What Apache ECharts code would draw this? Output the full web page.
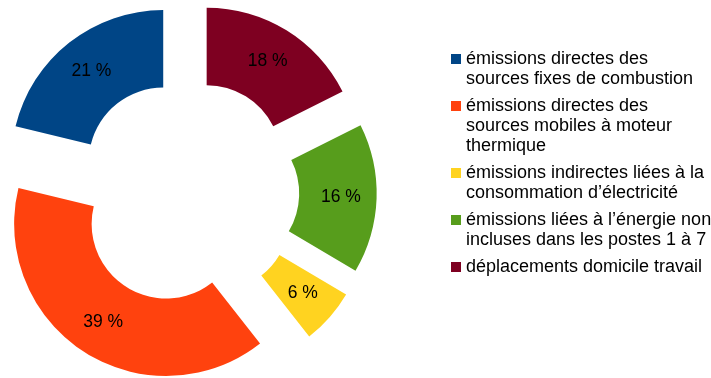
<!DOCTYPE html>
<html>
<head>
<meta charset="utf-8">
<script src="https://cdn.jsdelivr.net/npm/echarts@6/dist/echarts.min.js"></script>
<style>
html,body{margin:0;padding:0;background:#fff;}
#c{width:711px;height:378px;}
</style>
</head>
<body>
<div id="c"></div>
<script>
const categories = [
  'émissions directes des sources fixes de combustion',
  'émissions directes des sources mobiles à moteur thermique',
  'émissions indirectes liées à la consommation d’électricité',
  'émissions liées à l’énergie non incluses dans les postes 1 à 7',
  'déplacements domicile travail'
];
const legendLines = [
  ['émissions directes des', 'sources fixes de combustion'],
  ['émissions directes des', 'sources mobiles à moteur', 'thermique'],
  ['émissions indirectes liées à la', 'consommation d’électricité'],
  ['émissions liées à l’énergie non', 'incluses dans les postes 1 à 7'],
  ['déplacements domicile travail']
];
// shares in % (labels show them rounded)
const values = [21.2, 39.4, 5.9, 15.9, 17.6];
const colors = ['#004586', '#ff420e', '#ffd320', '#579d1c', '#7e0021'];

const FONT = '"Liberation Sans", Arial, sans-serif';
const rich = {
  g: { width: 5, height: 10 },
  sp: { width: 15, height: 10 },
  t: { fontSize: 18, lineHeight: 20, color: '#000', fontFamily: FONT, verticalAlign: 'middle' }
};
colors.forEach((c, i) => {
  rich['c' + i] = { width: 10, height: 10, backgroundColor: c, verticalAlign: 'middle', lineHeight: 20 };
});

const chart = echarts.init(document.getElementById('c'), null, { renderer: 'canvas' });
chart.setOption({
  animation: false,
  color: colors,
  legend: {
    orient: 'vertical',
    left: 441,
    top: 45,
    icon: 'none',
    itemWidth: 0,
    itemHeight: 10,
    itemGap: 9,
    selectedMode: false,
    data: categories,
    formatter: function (name) {
      const i = categories.indexOf(name);
      return legendLines[i].map((l, k) => (k === 0 ? '{c' + i + '|}{g|}' : '{sp|}') + '{t|' + l + '}').join('\n');
    },
    textStyle: { rich: rich, fontSize: 18, fontFamily: FONT, color: '#000' }
  },
  series: [{
    type: 'pie',
    center: [186.7, 192],
    radius: [74.5, 152],
    startAngle: 90,
    clockwise: false,
    selectedMode: 'multiple',
    selectedOffset: 38,
    avoidLabelOverlap: false,
    label: {
      position: 'inside',
      formatter: p => Math.round(p.value) + ' %',
      fontSize: 17.5,
      fontFamily: FONT,
      color: '#000'
    },
    labelLine: { show: false },
    itemStyle: { borderWidth: 0 },
    emphasis: { scale: false, disabled: true },
    select: { itemStyle: { borderWidth: 0 } },
    data: categories.map((n, i) => ({ name: n, value: values[i], selected: true }))
  }]
});
</script>
</body>
</html>
